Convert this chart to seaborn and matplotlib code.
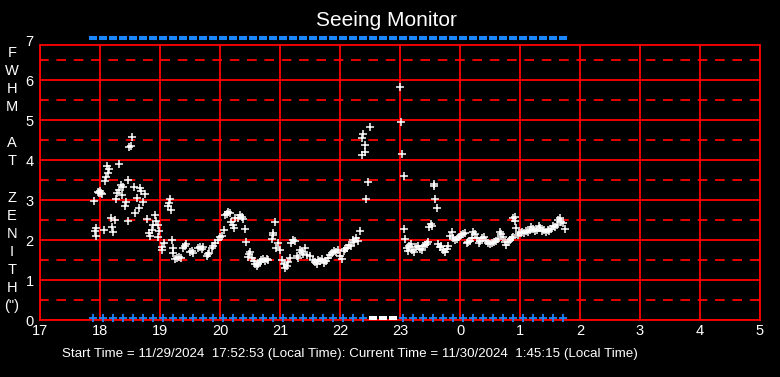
import matplotlib
matplotlib.use("Agg")
import matplotlib.pyplot as plt
import seaborn as sns
from matplotlib.path import Path

# FWHM readings: local hour (values past 24 are after midnight) and seeing in arcsec
hours = [
    17.90, 17.92, 17.93, 17.94, 17.97, 17.99, 18.00, 18.01, 18.03, 18.07,
    18.08, 18.10, 18.12, 18.13, 18.15, 18.18, 18.20, 18.22, 18.25, 18.27,
    18.29, 18.31, 18.32, 18.35, 18.36, 18.39, 18.42, 18.44, 18.46, 18.47,
    18.49, 18.51, 18.54, 18.56, 18.58, 18.61, 18.65, 18.67, 18.69, 18.72,
    18.75, 18.78, 18.81, 18.83, 18.86, 18.89, 18.91, 18.93, 18.96, 18.97,
    18.98, 19.03, 19.03, 19.07, 19.13, 19.15, 19.16, 19.18, 19.20, 19.21,
    19.22, 19.25, 19.28, 19.31, 19.35, 19.38, 19.42, 19.44, 19.50, 19.53,
    19.55, 19.63, 19.67, 19.70, 19.72, 19.78, 19.80, 19.82, 19.86, 19.89,
    19.92, 19.96, 20.00, 20.03, 20.06, 20.08, 20.11, 20.14, 20.17, 20.19,
    20.21, 20.23, 20.25, 20.30, 20.33, 20.36, 20.38, 20.41, 20.43, 20.46,
    20.48, 20.50, 20.53, 20.56, 20.58, 20.61, 20.63, 20.66, 20.69, 20.72,
    20.75, 20.78, 20.80, 20.86, 20.88, 20.89, 20.92, 20.94, 20.97, 21.00,
    21.03, 21.06, 21.08, 21.11, 21.14, 21.17, 21.19, 21.22, 21.25, 21.28,
    21.30, 21.33, 21.36, 21.39, 21.42, 21.45, 21.50, 21.55, 21.58, 21.61,
    21.64, 21.67, 21.70, 21.73, 21.76, 21.80, 21.83, 21.86, 21.90, 21.94,
    21.97, 22.00, 22.03, 22.06, 22.09, 22.12, 22.15, 22.18, 22.21, 22.24,
    22.27, 22.30, 22.34, 22.36, 22.37, 22.39, 22.41, 22.42, 22.44, 22.47,
    22.50, 23.00, 23.02, 23.04, 23.06, 23.07, 23.09, 23.11, 23.13, 23.15,
    23.18, 23.20, 23.23, 23.26, 23.30, 23.33, 23.36, 23.39, 23.42, 23.45,
    23.47, 23.48, 23.51, 23.54, 23.56, 23.57, 23.59, 23.61, 23.63, 23.66,
    23.69, 23.72, 23.75, 23.78, 23.80, 23.83, 23.86, 23.89, 23.92, 23.95,
    23.98, 24.02, 24.05, 24.08, 24.11, 24.13, 24.17, 24.20, 24.22, 24.25,
    24.28, 24.31, 24.34, 24.37, 24.40, 24.43, 24.46, 24.50, 24.53, 24.56,
    24.60, 24.63, 24.67, 24.69, 24.72, 24.75, 24.77, 24.80, 24.83, 24.86,
    24.88, 24.89, 24.91, 24.92, 24.94, 24.96, 24.98, 25.01, 25.04, 25.07,
    25.10, 25.13, 25.16, 25.19, 25.22, 25.25, 25.28, 25.31, 25.34, 25.37,
    25.40, 25.43, 25.46, 25.49, 25.52, 25.55, 25.58, 25.61, 25.64, 25.67,
    25.69, 25.72, 25.75,
]
fwhm = [
    2.97, 2.23, 2.30, 2.10, 3.20, 3.17, 3.22, 3.18, 3.15, 2.25,
    3.48, 3.57, 3.85, 3.67, 3.77, 2.56, 2.32, 2.21, 2.50, 3.02,
    3.17, 3.25, 3.89, 3.37, 3.12, 3.32, 2.85, 2.96, 2.48, 3.49,
    4.32, 4.36, 4.57, 3.33, 2.67, 3.04, 2.79, 3.29, 3.23, 2.94,
    3.15, 2.52, 2.17, 2.10, 2.25, 2.37, 2.62, 2.48, 2.37, 2.07,
    2.22, 1.83, 1.75, 1.93, 2.85, 2.92, 3.02, 2.75, 2.00, 1.79,
    1.68, 1.52, 1.55, 1.58, 1.56, 1.79, 1.85, 1.90, 1.70, 1.73,
    1.68, 1.80, 1.83, 1.77, 1.82, 1.60, 1.65, 1.68, 1.80, 1.85,
    1.92, 2.00, 2.07, 2.10, 2.25, 2.62, 2.65, 2.70, 2.67, 2.46,
    2.38, 2.30, 2.55, 2.55, 2.62, 2.58, 2.52, 2.27, 1.94, 1.58,
    1.65, 1.70, 1.55, 1.48, 1.40, 1.36, 1.40, 1.46, 1.50, 1.52,
    1.47, 1.53, 1.50, 2.02, 2.12, 2.17, 2.45, 1.80, 1.92, 1.75,
    1.50, 1.40, 1.30, 1.35, 1.45, 1.55, 1.93, 2.00, 1.97, 1.60,
    1.55, 1.75, 1.70, 1.65, 1.80, 1.62, 1.60, 1.50, 1.45, 1.40,
    1.50, 1.47, 1.52, 1.43, 1.48, 1.55, 1.62, 1.67, 1.72, 1.70,
    1.75, 1.60, 1.52, 1.72, 1.78, 1.80, 1.88, 1.85, 2.00, 1.95,
    2.05, 1.98, 2.22, 4.12, 4.54, 4.65, 4.21, 4.37, 3.02, 3.44,
    4.82, 5.82, 4.94, 4.14, 3.59, 2.27, 2.02, 1.80, 1.72, 1.85,
    1.90, 1.75, 1.70, 1.82, 1.86, 1.78, 1.75, 1.85, 1.88, 1.90,
    1.95, 2.33, 2.40, 2.36, 3.35, 3.39, 3.02, 2.79, 1.90, 1.82,
    1.85, 1.75, 1.70, 1.78, 1.85, 2.10, 2.20, 2.05, 2.00, 2.03,
    2.08, 2.13, 2.15, 2.17, 1.92, 1.95, 1.98, 2.05, 2.20, 2.15,
    2.05, 1.92, 1.98, 2.05, 2.08, 1.98, 1.92, 1.90, 1.93, 1.95,
    1.98, 2.02, 2.20, 2.15, 2.08, 1.95, 1.88, 1.95, 2.00, 2.05,
    2.07, 2.54, 2.58, 2.48, 2.30, 2.13, 2.17, 2.18, 2.20, 2.17,
    2.22, 2.20, 2.25, 2.33, 2.28, 2.22, 2.25, 2.35, 2.30, 2.22,
    2.25, 2.20, 2.25, 2.23, 2.28, 2.35, 2.32, 2.38, 2.50, 2.55,
    2.45, 2.42, 2.27,
]

# status markers every 10 minutes along the top (y=7) and bottom (y=0)
status_times = [
    17.88, 18.05, 18.22, 18.38, 18.55, 18.72, 18.88, 19.05, 19.22, 19.38,
    19.55, 19.72, 19.88, 20.05, 20.22, 20.38, 20.55, 20.72, 20.88, 21.05,
    21.22, 21.38, 21.55, 21.72, 21.88, 22.05, 22.22, 22.38, 22.55, 22.72,
    22.88, 23.05, 23.22, 23.38, 23.55, 23.72, 23.88, 24.05, 24.22, 24.38,
    24.55, 24.72, 24.88, 25.05, 25.22, 25.38, 25.55, 25.72,
]
gap_times = [22.55, 22.72, 22.88]   # shown white on the bottom row

hour_ticks = list(range(17, 30))
hour_labels = [str(h % 24) for h in hour_ticks]
y_ticks = list(range(0, 8))
ylabel_letters = ["F", "W", "H", "M", "", "A", "T", "", "Z", "E", "N", "I", "T", "H", '(")']

sns.set_style("dark")
plt.rcParams["font.family"] = ["Liberation Sans", "DejaVu Sans"]

W, H = 780, 377
fig = plt.figure(figsize=(W / 100, H / 100), dpi=100, facecolor="black")
ax = fig.add_axes([40 / W, 57 / H, 720 / W, 280 / H])
ax.set_facecolor("black")

red = "#ff0000"
blue = "#1a86ff"

# grid
for y in range(0, 7):
    ax.axhline(y, color=red, lw=1.3, zorder=1)
for y in [0.5, 1.5, 2.5, 3.5, 4.5, 5.5, 6.5]:
    ax.axhline(y, color=red, lw=1.3, ls=(0.5, (5.3, 4.3)), zorder=1)
for h in hour_ticks:
    ax.plot([h, h], [0, 6.875], color=red, lw=1.3, zorder=1)
ax.axhline(6.875, color=red, lw=1.3, zorder=1)

sns.scatterplot(x=hours, y=fwhm, marker="+", color="white", s=30,
                linewidth=1.1, ax=ax, zorder=3)

bottom_times = [t for t in status_times if t not in gap_times]
sns.scatterplot(x=bottom_times, y=[0.06] * len(bottom_times), marker="+",
                color=blue, s=30, linewidth=1.3, ax=ax, zorder=4, clip_on=False)

rect = Path([(-1, -0.55), (1, -0.55), (1, 0.55), (-1, 0.55), (-1, -0.55)])
sns.scatterplot(x=status_times, y=[7.05] * len(status_times), marker=rect,
                color=blue, s=38, linewidth=0, ax=ax, zorder=4, clip_on=False)
sns.scatterplot(x=gap_times, y=[0.06] * len(gap_times), marker=rect,
                color="white", s=38, linewidth=0, ax=ax, zorder=4, clip_on=False)

ax.set_xlim(17, 29)
ax.set_ylim(0, 7)
ax.set_xticks(hour_ticks)
ax.set_xticklabels(hour_labels)
ax.set_yticks(y_ticks)
ax.set_yticklabels([str(v) for v in y_ticks])
ax.tick_params(colors="white", labelsize=10.5, length=0)
ax.tick_params(axis="x", pad=3)
ax.tick_params(axis="y", pad=4.5)
ax.grid(False)
for side, sp in ax.spines.items():
    sp.set_visible(side in ("left", "bottom", "right"))
    sp.set_color(red)
    sp.set_linewidth(1.3)
ax.spines["left"].set_bounds(0, 6.875)
ax.spines["right"].set_bounds(0, 6.875)
ax.set_xlabel("")
ax.set_ylabel("")

fig.text(0.496, 1 - 20 / H, "Seeing Monitor", color="white", fontsize=15,
         ha="center", va="center")

for i, ch in enumerate(ylabel_letters):
    if ch:
        fig.text(12 / W, 1 - (53 + 18.07 * i) / H, ch, color="white",
                 fontsize=10.5, ha="center", va="center")

fig.text(62 / W, 1 - 354 / H,
         "Start Time = 11/29/2024  17:52:53 (Local Time): Current Time = 11/30/2024  1:45:15 (Local Time)",
         color="white", fontsize=9.6, ha="left", va="center")

fig.savefig("out.png", dpi=100, facecolor="black")
